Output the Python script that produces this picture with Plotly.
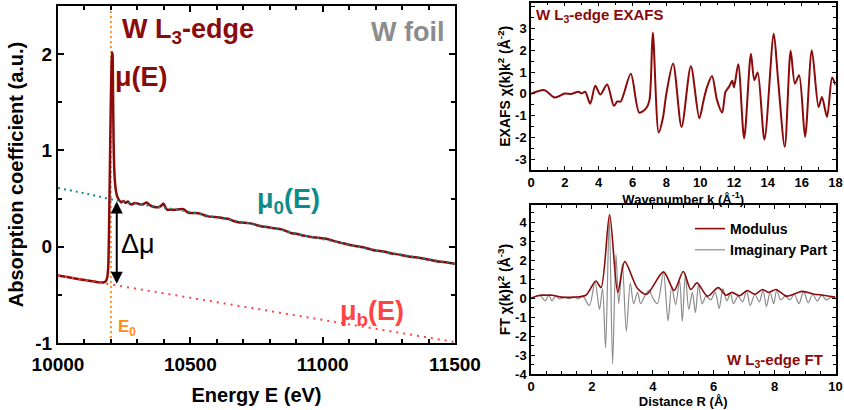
import plotly.graph_objects as go

# ---------------- data ----------------
E_mu = [10000, 10050, 10100, 10150, 10170, 10180, 10186, 10190, 10193, 10196, 10199, 10202, 10204,
        10206, 10208, 10210, 10212, 10215, 10219, 10224, 10232, 10240, 10247, 10255, 10264, 10272,
        10280, 10290, 10300, 10310, 10320, 10335, 10345, 10355, 10370, 10380, 10392, 10398, 10404,
        10412, 10425, 10442, 10460, 10474, 10488, 10500, 10520, 10535, 10550, 10568, 10585, 10606,
        10625, 10643, 10660, 10681, 10700, 10720, 10740, 10755, 10770, 10790, 10807, 10825, 10845,
        10865, 10883, 10900, 10921, 10940, 10958, 10975, 10990, 11009, 11030, 11047, 11070, 11100,
        11130, 11160, 11200, 11230, 11260, 11292, 11320, 11350, 11393, 11430, 11470, 11500]
mu = [-0.30, -0.323, -0.346, -0.368, -0.372, -0.36, -0.32, -0.2, 0.2, 0.8, 1.4, 1.85, 2.02,
      2.0, 1.6, 1.1, 0.85, 0.68, 0.58, 0.52, 0.48, 0.46, 0.475, 0.455, 0.47, 0.445,
      0.44, 0.455, 0.45, 0.44, 0.44, 0.46, 0.435, 0.42, 0.41, 0.41, 0.43, 0.45, 0.42,
      0.385, 0.385, 0.385, 0.39, 0.39, 0.36, 0.35, 0.35, 0.345, 0.33, 0.315, 0.31, 0.305,
      0.295, 0.29, 0.27, 0.255, 0.25, 0.245, 0.235, 0.22, 0.21, 0.205, 0.195, 0.19, 0.18,
      0.16, 0.14, 0.135, 0.12, 0.11, 0.10, 0.095, 0.09, 0.085, 0.07, 0.055, 0.04, 0.02,
      0.005, -0.01, -0.04, -0.05, -0.07, -0.083, -0.10, -0.11, -0.13, -0.15, -0.165, -0.178]

E_mu0 = [10000, 10100, 10205, 10250, 10300, 10350, 10400, 10450, 10500, 10550, 10600, 10650,
         10700, 10750, 10800, 10850, 10900, 10950, 11000, 11100, 11200, 11300, 11400, 11500]
mu0 = [0.61, 0.555, 0.49, 0.465, 0.445, 0.425, 0.405, 0.385, 0.36, 0.33, 0.305, 0.28,
       0.255, 0.225, 0.2, 0.17, 0.135, 0.105, 0.08, 0.02, -0.04, -0.085, -0.13, -0.18]

E_mub = [10000, 11500]
mub = [-0.30, -0.99]

E0 = 10200
dmu_E = 10222
dmu_lo, dmu_hi = -0.40, 0.47

k = [0, 0.8, 1.4, 2.0, 2.4, 2.8, 3.0, 3.2, 3.5, 3.8, 4.1, 4.5, 4.9, 5.1, 5.3, 5.9, 6.4, 6.8,
     7.0, 7.2, 7.55, 7.8, 8.0, 8.4, 8.9, 9.45, 9.95, 10.2, 10.4, 10.7, 11.0, 11.3, 11.5, 11.7,
     11.9, 12.0, 12.25, 12.6, 13.0, 13.2, 13.4, 13.8, 14.35, 14.6, 15.0, 15.35, 15.6, 15.85,
     16.2, 16.6, 17.0, 17.2, 17.5, 17.8, 18.0]
chi = [0, 0.17, -0.17, 0.02, 0.0, 0.1, 0.02, 0.1, -0.45, 0.37, -0.03, 0.43, -0.55, -0.35, -0.35,
       0.92, -0.86, -0.67, -0.3, 2.82, -1.78, -1.1, 0.0, 1.4, -1.52, 1.27, -1.12, -0.3, 0.3,
       0.82, -0.3, -0.86, 0.1, 0.32, 0.6, 0.3, 1.36, -2.05, 1.84, 0.63, 0.98, -2.1, 2.76, 0.7,
       -2.43, 1.98, 0.47, 0.86, -1.98, 2.0, -0.6, -0.14, -1.06, 0.75, 0.4]

R_mod = [0, 0.3, 0.5, 0.7, 1.0, 1.4, 1.8, 2.13, 2.3, 2.58, 2.85, 3.08, 3.5, 3.8, 4.35, 4.7, 5.0,
         5.25, 5.45, 5.8, 6.15, 6.4, 6.6, 6.85, 7.1, 7.35, 7.6, 7.8, 8.05, 8.4, 8.9, 9.3, 9.6, 10.0]
ft_mod = [0, 0.15, 0.15, 0.15, 0.05, 0.05, 0.15, 0.9, 0.55, 4.4, 0.3, 1.92, 0.5, 0.2, 1.38, 0.4,
          1.4, 0.45, 0.8, 0.1, 0.55, 0.15, 0.3, 0.12, 0.4, 0.2, 0.45, 0.3, 0.45, 0.1, 0.35, 0.2,
          0.15, 0.05]

R_im = [0.0, 0.15, 0.3, 0.47, 0.58, 0.69, 0.8, 0.95, 1.1, 1.25, 1.4, 1.55, 1.7, 1.92, 2.1, 2.25,
        2.35, 2.45, 2.57, 2.68, 2.79, 2.88, 3.0, 3.13, 3.26, 3.37, 3.5, 3.6, 3.75, 3.88, 4.0,
        4.15, 4.35, 4.5, 4.62, 4.75, 4.88, 4.97, 5.07, 5.18, 5.3, 5.4, 5.5, 5.62, 5.75, 5.9,
        6.05, 6.18, 6.3, 6.43, 6.55, 6.65, 6.8, 6.95, 7.08, 7.2, 7.35, 7.5, 7.62, 7.73, 7.85,
        7.97, 8.07, 8.2, 8.35, 8.5, 8.65, 8.8, 8.95, 9.1, 9.25, 9.4, 9.55, 9.7, 9.85, 10.0]
ft_im = [0, 0.08, 0.12, -0.15, 0.15, -0.15, 0.1, -0.05, 0.05, -0.03, 0.05, -0.05, 0.1, -0.4, 0.88,
         -0.6, 0.5, -2.63, 4.3, -3.46, 2.3, -0.3, 1.8, -1.75, 0.8, -0.3, 0.3, -0.3, 0.15, 0.4, 0.0,
         -0.3, 1.35, -1.2, 0.6, -0.35, 0.9, -1.23, 1.3, -0.6, 0.3, -0.77, 0.7, -0.3, 0.1, -0.1,
         0.3, -0.55, 0.5, -0.15, 0.25, -0.3, 0.1, -0.2, 0.38, -0.4, 0.2, -0.2, 0.42, -0.45, 0.3,
         -0.3, 0.43, -0.1, 0.1, -0.1, 0.2, -0.3, 0.35, -0.25, 0.2, -0.15, 0.15, -0.1, 0.05, 0]

# tick labels (hyphen minus as in the reference)
y1_ticks = [-1, 0, 1, 2]
y1_labels = ["-1", "0", "1", "2"]
y2_ticks = [-3, -2, -1, 0, 1, 2, 3, 4]
y2_labels = ["-3", "-2", "-1", "0", "1", "2", "3", "4"]
y3_ticks = [-4, -3, -2, -1, 0, 1, 2, 3, 4]
y3_labels = ["-4", "-3", "-2", "-1", "0", "1", "2", "3", "4"]
x2_ticks = [0, 2, 4, 6, 8, 10, 12, 14, 16, 18]
x3_ticks = [0, 2, 4, 6, 8, 10]

# ---------------- styles ----------------
MAROON = "#8B0A0A"
TEAL = "#0E8C8C"
RED = "#FF4444"
ORANGE = "#FF8C1A"
GRAY = "#8C8C8C"
FONT = "Liberation Sans"

fig = go.Figure()

# left panel
fig.add_trace(go.Scatter(x=[E0, E0], y=[-1, 2.5], mode="lines", xaxis="x", yaxis="y",
                         line=dict(color=ORANGE, width=1.8, dash="2px,3px"), showlegend=False))
fig.add_trace(go.Scatter(x=E_mu, y=mu, mode="lines", xaxis="x", yaxis="y",
                         line=dict(color=MAROON, width=2.5, shape="spline", smoothing=0.5),
                         showlegend=False))
fig.add_trace(go.Scatter(x=E_mu0, y=mu0, mode="lines", xaxis="x", yaxis="y",
                         line=dict(color=TEAL, width=2, dash="2px,4px", shape="spline"),
                         showlegend=False))
fig.add_trace(go.Scatter(x=E_mub, y=mub, mode="lines", xaxis="x", yaxis="y",
                         line=dict(color=RED, width=2, dash="2px,5px"), showlegend=False))

# top right
fig.add_trace(go.Scatter(x=k, y=chi, mode="lines", xaxis="x2", yaxis="y2",
                         line=dict(color=MAROON, width=2, shape="spline", smoothing=0.8),
                         showlegend=False))

# bottom right
fig.add_trace(go.Scatter(x=R_im, y=ft_im, mode="lines", xaxis="x3", yaxis="y3",
                         name="Imaginary Part", legendrank=2,
                         line=dict(color=GRAY, width=1.2, shape="spline", smoothing=0.8)))
fig.add_trace(go.Scatter(x=R_mod, y=ft_mod, mode="lines", xaxis="x3", yaxis="y3",
                         name="Modulus", legendrank=1,
                         line=dict(color=MAROON, width=1.6, shape="spline", smoothing=0.8)))

W, H = 844, 410


def dx(a, b):
    return [a / W, b / W]


def dy(top, bottom):
    return [1 - bottom / H, 1 - top / H]


axis_common = dict(showline=True, linecolor="black", mirror="ticks", ticks="inside",
                   showgrid=False, zeroline=False, tickcolor="black", automargin=False)

fig.update_layout(
    width=W, height=H, margin=dict(l=0, r=0, t=0, b=0),
    paper_bgcolor="white", plot_bgcolor="white",
    font=dict(family=FONT, color="black"),
    xaxis=dict(domain=dx(58, 455), range=[10000, 11500], dtick=500, tick0=10000, tickformat="d",
               linewidth=2, tickwidth=2, ticklen=6, ticklabelstandoff=3,
               minor=dict(dtick=100, ticklen=4, tickwidth=1.5, ticks="inside", tickcolor="black"),
               tickfont=dict(size=19, weight="bold"),
               title=dict(text="Energy E (eV)", font=dict(size=20, weight="bold"), standoff=14),
               anchor="y", **axis_common),
    yaxis=dict(domain=dy(6, 343), range=[-1, 2.5], tickvals=y1_ticks, ticktext=y1_labels,
               linewidth=2, tickwidth=2, ticklen=6,
               minor=dict(dtick=0.5, ticklen=4, tickwidth=1.5, ticks="inside", tickcolor="black"),
               tickfont=dict(size=19, weight="bold"),
               title=dict(text="Absorption coefficient (a.u.)", font=dict(size=20, weight="bold"),
                          standoff=6),
               anchor="x", **axis_common),
    xaxis2=dict(domain=dx(531, 835.5), range=[0, 18], tickvals=x2_ticks,
                linewidth=1.5, tickwidth=1.2, ticklen=4,
                minor=dict(dtick=1, ticklen=3, tickwidth=1, ticks="inside", tickcolor="black"),
                tickfont=dict(size=13, weight="bold"),
                title=dict(text="Wavenumber k (Å<sup>-1</sup>)", font=dict(size=13, weight="bold"),
                           standoff=0),
                anchor="y2", **axis_common),
    yaxis2=dict(domain=dy(2.5, 170), range=[-3.5, 4.2], tickvals=y2_ticks, ticktext=y2_labels,
                linewidth=1.5, tickwidth=1.2, ticklen=4,
                minor=dict(dtick=0.5, ticklen=3, tickwidth=1, ticks="inside", tickcolor="black"),
                tickfont=dict(size=13, weight="bold"),
                title=dict(text="EXAFS χ(k)k<sup>2</sup> (Å<sup>-2</sup>)",
                           font=dict(size=14, weight="bold"), standoff=1),
                anchor="x2", **axis_common),
    xaxis3=dict(domain=dx(531, 835.5), range=[0, 10], tickvals=x3_ticks,
                linewidth=1.5, tickwidth=1.2, ticklen=4,
                minor=dict(dtick=0.5, ticklen=3, tickwidth=1, ticks="inside", tickcolor="black"),
                tickfont=dict(size=13, weight="bold"),
                title=dict(text="Distance R (Å)", font=dict(size=13, weight="bold"), standoff=0),
                anchor="y3", **axis_common),
    yaxis3=dict(domain=dy(205, 374), range=[-4, 4.9], tickvals=y3_ticks, ticktext=y3_labels,
                linewidth=1.5, tickwidth=1.2, ticklen=4,
                minor=dict(dtick=0.5, ticklen=3, tickwidth=1, ticks="inside", tickcolor="black"),
                tickfont=dict(size=13, weight="bold"),
                title=dict(text="FT χ(k)k<sup>2</sup> (Å<sup>-3</sup>)",
                           font=dict(size=14, weight="bold"), standoff=1),
                anchor="x3", **axis_common),
    legend=dict(x=690 / W, y=1 - 213 / H, xanchor="left", yanchor="top",
                bgcolor="rgba(0,0,0,0)", font=dict(size=14, weight="bold", family=FONT),
                tracegroupgap=0, itemwidth=30),
)

ann = [
    dict(x=10491, y=2.24, text="W L<sub>3</sub>-edge", color=MAROON, size=27, bold=True),
    dict(x=11322, y=2.23, text="W foil", color=GRAY, size=27, bold=True),
    dict(x=10314, y=1.76, text="μ(E)", color=MAROON, size=27, bold=True),
    dict(x=10869, y=0.47, text="μ<sub>0</sub>(E)", color=TEAL, size=27, bold=True),
    dict(x=10302, y=0.03, text="Δμ", color="black", size=27, bold=False),
    dict(x=11186, y=-0.69, text="μ<sub>b</sub>(E)", color=RED, size=27, bold=True),
    dict(x=10261, y=-0.84, text="E<sub>0</sub>", color=ORANGE, size=17, bold=True),
]
for a in ann:
    fig.add_annotation(x=a["x"], y=a["y"], xref="x", yref="y", text=a["text"], showarrow=False,
                       font=dict(color=a["color"], size=a["size"], family=FONT,
                                 weight="bold" if a["bold"] else "normal"))

# delta-mu double arrow
fig.add_annotation(x=dmu_E, y=dmu_hi, ax=dmu_E, ay=dmu_lo, xref="x", yref="y", axref="x",
                   ayref="y", text="", showarrow=True, arrowhead=2, arrowside="end+start",
                   arrowsize=1.2, arrowwidth=2, arrowcolor="black")

fig.add_annotation(x=0.18, y=3.62, xref="x2", yref="y2", text="W L<sub>3</sub>-edge EXAFS",
                   showarrow=False, xanchor="left",
                   font=dict(color=MAROON, size=15, family=FONT, weight="bold"))
fig.add_annotation(x=9.64, y=-3.28, xref="x3", yref="y3", text="W L<sub>3</sub>-edge FT",
                   showarrow=False, xanchor="right",
                   font=dict(color=MAROON, size=15, family=FONT, weight="bold"))

fig.write_html("out.html")
